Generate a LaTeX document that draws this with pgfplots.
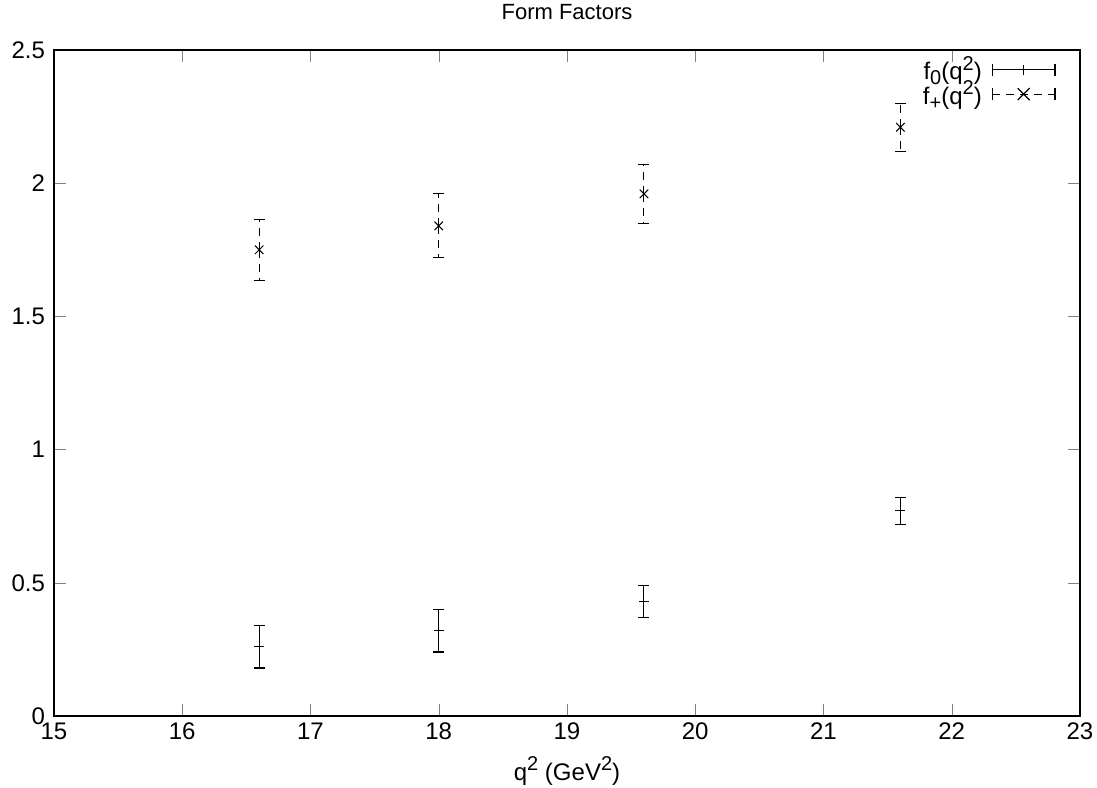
\documentclass[border=0pt]{standalone}
\usepackage{fontspec}
\setmainfont{Liberation Sans}
\usepackage{pgfplots}
\pgfplotsset{compat=1.18}
\newcommand{\sups}[1]{\raisebox{0.75ex}{\fontsize{10}{10}\selectfont #1}}
\newcommand{\subs}[1]{\raisebox{-0.4ex}{\fontsize{10}{10}\selectfont #1}}
\begin{document}
\begin{tikzpicture}
\begin{axis}[
  at={(0,0)}, anchor=south west,
  scale only axis, width=513pt, height=333pt,
  xmin=15, xmax=23, ymin=0, ymax=2.5,
  xtick={15,16,...,23}, ytick={0,0.5,1,1.5,2,2.5},
  tick align=inside, tick pos=both,
  major tick length=6pt,
  /pgf/number format/assume math mode=true,
  yticklabel style={/pgf/number format/fixed, xshift=-1pt},
  tick label style={font=\fontsize{12}{14}\selectfont},
  title={Form Factors},
  title style={at={(0.5,1)}, anchor=base, yshift=9pt, font=\fontsize{11}{13}\selectfont},
  xlabel={q\sups{2} (GeV\sups{2})},
  xlabel style={at={(0.5,0)}, anchor=base, yshift=-32pt, font=\fontsize{12}{14}\selectfont},
  axis line style={black, line width=0.6pt},
  legend style={draw=none, fill=none, at={(1,1)}, anchor=north east, xshift=-9pt, yshift=1pt,
    font=\fontsize{12}{14}\selectfont, row sep=-5pt, column sep=3pt},
  legend cell align=right,
  legend plot pos=right,
]
\addplot[black, only marks, mark=+, mark size=2.5pt, line width=0.5pt,
  legend image code/.code={
    \draw[black, line width=0.6pt] (0cm,0cm) -- (1.1cm,0cm);
    \draw[black, line width=0.6pt] (0cm,-3pt) -- (0cm,3pt);
    \draw[black, line width=0.6pt] (1.1cm,-3pt) -- (1.1cm,3pt);
    \draw[black, line width=0.6pt] (0.55cm,-2.5pt) -- (0.55cm,2.5pt);
  },
  error bars/.cd, y dir=both, y explicit,
  error bar style={solid, black, line width=0.5pt},
  error mark options={rotate=90, mark size=2.75pt, solid, black, line width=0.6pt}]
  coordinates {
  (16.6,0.26) +- (0,0.08)
  (18.0,0.32) +- (0,0.08)
  (19.6,0.43) +- (0,0.06)
  (21.6,0.77) +- (0,0.05)
  };
\addlegendentry{f\subs{0}(q\sups{2})}
\addplot[black, only marks, mark=x, mark size=3pt, line width=0.5pt,
  legend image code/.code={
    \draw[black, line width=0.5pt, dash pattern=on 4pt off 3pt] (0cm,0cm) -- (1.1cm,0cm);
    \draw[black, line width=0.6pt] (0cm,-3pt) -- (0cm,3pt);
    \draw[black, line width=0.6pt] (1.1cm,-3pt) -- (1.1cm,3pt);
    \draw[black, line width=0.6pt] (0.55cm,0) +(-3pt,-3pt) -- +(3pt,3pt) +(-3pt,3pt) -- +(3pt,-3pt);
  },
  error bars/.cd, y dir=both, y explicit,
  error bar style={dash pattern=on 4pt off 3pt, black, line width=0.5pt},
  error mark options={rotate=90, mark size=2.75pt, solid, black, line width=0.6pt}]
  coordinates {
  (16.6,1.75) +- (0,0.115)
  (18.0,1.84) +- (0,0.12)
  (19.6,1.96) +- (0,0.11)
  (21.6,2.21) +- (0,0.09)
  };
\addlegendentry{f\subs{+}(q\sups{2})}
\end{axis}
\pgfresetboundingbox
\useasboundingbox (-27pt,-35.5pt) rectangle (521.5pt,358pt);
\end{tikzpicture}
\end{document}
